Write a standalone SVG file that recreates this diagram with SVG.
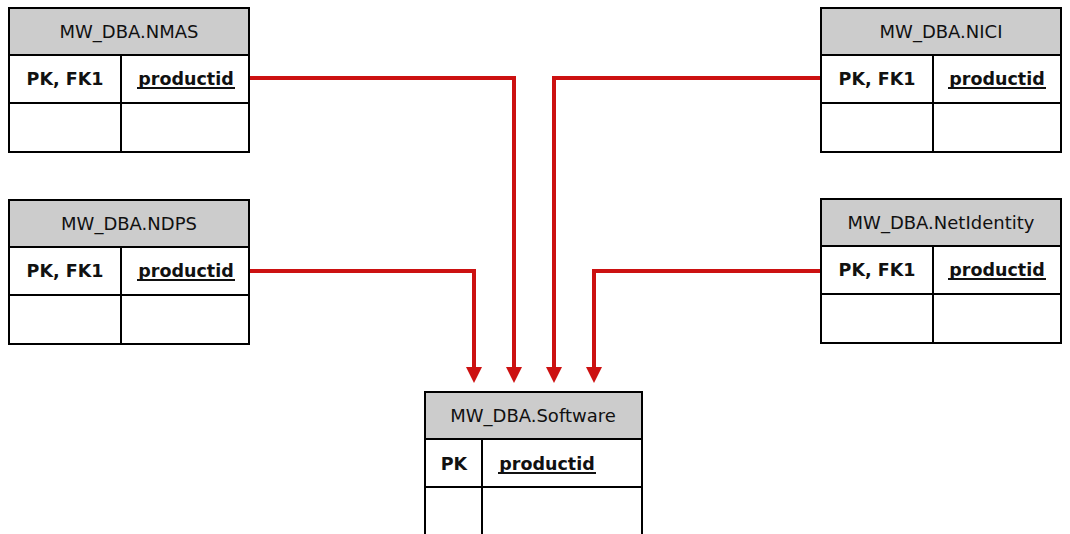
<svg xmlns="http://www.w3.org/2000/svg" width="1070" height="534" viewBox="0 0 1070 534">
  <style>
    .box { fill: #ffffff; stroke: #000000; stroke-width: 2; }
    .hdr { fill: #cccccc; stroke: #000000; stroke-width: 2; }
    .ln { stroke: #000000; stroke-width: 2; }
    .title { font-family: "DejaVu Sans", Verdana, sans-serif; font-size: 18px; fill: #111111; text-anchor: middle; }
    .cell { font-family: "DejaVu Sans", Verdana, sans-serif; font-size: 17.5px; font-weight: bold; fill: #111111; text-anchor: middle; }
    .ul { stroke: #111111; stroke-width: 1.8; }
    .conn { fill: none; stroke: #cc1111; stroke-width: 4; }
  </style>
  <defs>
    <marker id="arrow" markerUnits="userSpaceOnUse" viewBox="0 0 16 16" refX="0" refY="8" markerWidth="16" markerHeight="16" orient="auto">
      <path d="M0,0 L16,8 L0,16 z" fill="#cc1111"/>
    </marker>
  </defs>
  <rect width="1070" height="534" fill="#ffffff"/>

  <g id="connectors">
    <path class="conn" d="M249,78 H514 V367" marker-end="url(#arrow)"/>
    <path class="conn" d="M821,78 H554 V367" marker-end="url(#arrow)"/>
    <path class="conn" d="M249,271 H474 V367" marker-end="url(#arrow)"/>
    <path class="conn" d="M821,271 H594 V367" marker-end="url(#arrow)"/>
  </g>

  <g id="nmas">
    <rect class="box" x="9" y="8" width="240" height="144"/>
    <rect class="hdr" x="9" y="8" width="240" height="47"/>
    <line class="ln" x1="9" y1="103" x2="249" y2="103"/>
    <line class="ln" x1="121" y1="55" x2="121" y2="152"/>
    <text class="title" x="129" y="38">MW_DBA.NMAS</text>
    <text class="cell" x="65" y="85">PK, FK1</text>
    <text class="cell" x="186" y="84.5">productid</text>
    <line class="ul" x1="137" y1="88" x2="235" y2="88"/>
  </g>

  <g id="nici">
    <rect class="box" x="821" y="8" width="240" height="144"/>
    <rect class="hdr" x="821" y="8" width="240" height="47"/>
    <line class="ln" x1="821" y1="103" x2="1061" y2="103"/>
    <line class="ln" x1="933" y1="55" x2="933" y2="152"/>
    <text class="title" x="941" y="38">MW_DBA.NICI</text>
    <text class="cell" x="877" y="85">PK, FK1</text>
    <text class="cell" x="997" y="84.5">productid</text>
    <line class="ul" x1="948" y1="88" x2="1046" y2="88"/>
  </g>

  <g id="ndps">
    <rect class="box" x="9" y="200" width="240" height="144"/>
    <rect class="hdr" x="9" y="200" width="240" height="47"/>
    <line class="ln" x1="9" y1="295" x2="249" y2="295"/>
    <line class="ln" x1="121" y1="247" x2="121" y2="344"/>
    <text class="title" x="129" y="230">MW_DBA.NDPS</text>
    <text class="cell" x="65" y="277">PK, FK1</text>
    <text class="cell" x="186" y="276.5">productid</text>
    <line class="ul" x1="137" y1="280" x2="235" y2="280"/>
  </g>

  <g id="netidentity">
    <rect class="box" x="821" y="199" width="240" height="144"/>
    <rect class="hdr" x="821" y="199" width="240" height="47"/>
    <line class="ln" x1="821" y1="294" x2="1061" y2="294"/>
    <line class="ln" x1="933" y1="246" x2="933" y2="343"/>
    <text class="title" x="941" y="229">MW_DBA.NetIdentity</text>
    <text class="cell" x="877" y="276">PK, FK1</text>
    <text class="cell" x="997" y="275.5">productid</text>
    <line class="ul" x1="948" y1="279" x2="1046" y2="279"/>
  </g>

  <g id="software">
    <rect class="box" x="425" y="392" width="217" height="146"/>
    <rect class="hdr" x="425" y="392" width="217" height="47"/>
    <line class="ln" x1="425" y1="487" x2="642" y2="487"/>
    <line class="ln" x1="482" y1="439" x2="482" y2="538"/>
    <text class="title" x="533" y="422">MW_DBA.Software</text>
    <text class="cell" x="454" y="470">PK</text>
    <text class="cell" x="547" y="469.5">productid</text>
    <line class="ul" x1="498" y1="473" x2="596" y2="473"/>
  </g>
</svg>
